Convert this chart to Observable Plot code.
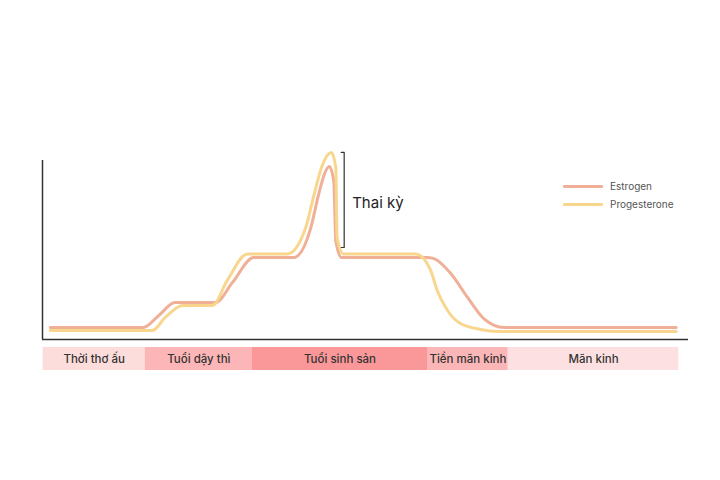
<!DOCTYPE html>
<html>
<head>
<meta charset="utf-8">
<script src="https://cdn.jsdelivr.net/npm/d3@7"></script>
<script src="https://cdn.jsdelivr.net/npm/@observablehq/plot@0.6"></script>
<style>
  body { margin: 0; background: #fff; font-family: Inter, "Noto Sans", sans-serif; }
  #wrap { position: relative; width: 720px; height: 480px; overflow: hidden; }
  #chart svg, #strip svg { display: block; }
  #legend { position: absolute; left: 563px; top: 177px; font-size: 10px; color: #555; }
  .item { display: flex; align-items: center; height: 18px; }
  .sw { width: 40px; height: 3px; margin-right: 7px; border-radius: 1px; }
</style>
</head>
<body>
<div id="wrap">
  <div id="chart"></div>
  <div id="strip"></div>
  <div id="legend"></div>
</div>
<script>
// ---- series (x: life course units 0–100, y: relative hormone level 0–100)
const seriesNames = ["Estrogen", "Progesterone"];
const seriesColors = ["#f0b098", "#f8d68e"];

const estrogenX = [1.2, 15.6, 18.0, 20.5, 26.8, 29.4, 32.7, 38.9, 41.5, 42.7, 43.7, 44.4, 45.1, 45.4, 46.3, 59.5, 60.5, 63.2, 65.8, 68.3, 71.5, 98.1];
const estrogenY = [6.7, 6.7, 13.4, 20.7, 20.7, 31.8, 45.8, 45.8, 62.0, 80.4, 93.0, 96.6, 88.0, 55.0, 45.8, 45.8, 45.3, 36.9, 23.5, 11.7, 6.7, 6.7];

const progesteroneX = [1.2, 17.0, 19.0, 21.7, 26.3, 28.6, 31.7, 37.9, 40.7, 42.0, 43.3, 44.7, 45.4, 45.6, 46.6, 57.8, 60.1, 61.1, 62.7, 64.7, 67.8, 70.4, 98.1];
const progesteroneY = [5.0, 5.0, 12.3, 19.0, 19.0, 33.0, 47.8, 47.8, 62.0, 80.4, 97.2, 104.5, 96.0, 57.0, 47.8, 47.8, 38.5, 27.4, 16.2, 8.9, 5.6, 4.5, 4.5];

// ---- life stages
const stageNames = ["Thời thơ ấu", "Tuổi dậy thì", "Tuổi sinh sản", "Tiền mãn kinh", "Mãn kinh"];
const stageStart = [0.1, 15.9, 32.5, 59.6, 72.1];
const stageEnd = [15.9, 32.5, 59.6, 72.1, 98.5];
const stageColors = ["#fddcdc", "#fcb6b7", "#fa9799", "#fbb6b7", "#fde1e2"];

// ---- pregnancy annotation
const annotationLabel = "Thai kỳ";
const annotationX = 46.7;
const annotationTop = 104.5;
const annotationBottom = 51.4;

// build tables
const estrogen = estrogenX.map((x, i) => ({x, y: estrogenY[i], series: seriesNames[0]}));
const progesterone = progesteroneX.map((x, i) => ({x, y: progesteroneY[i], series: seriesNames[1]}));
const stages = stageNames.map((name, i) => ({name, start: stageStart[i], end: stageEnd[i], color: stageColors[i], mid: (stageStart[i] + stageEnd[i]) / 2}));
const tick = 0.45;
const bracket = [
  {x: annotationX - tick, y: annotationTop},
  {x: annotationX, y: annotationTop},
  {x: annotationX, y: annotationBottom},
  {x: annotationX - tick, y: annotationBottom}
];

const chart = Plot.plot({
  width: 720,
  height: 347,
  marginLeft: 42,
  marginRight: 32,
  marginTop: 160,
  marginBottom: 8,
  style: {fontFamily: "Inter, 'Noto Sans', sans-serif", background: "transparent", overflow: "visible"},
  x: {domain: [0, 100], axis: null},
  y: {domain: [0, 100], axis: null},
  color: {domain: seriesNames, range: seriesColors},
  marks: [
    Plot.ruleY([0], {x1: 0, x2: 100, stroke: "#333", strokeWidth: 1.5}),
    Plot.ruleX([0], {y1: 0, y2: 100, stroke: "#333", strokeWidth: 1.5}),
    Plot.line(estrogen, {x: "x", y: "y", stroke: "series", strokeWidth: 3, curve: "monotone-x"}),
    Plot.line(progesterone, {x: "x", y: "y", stroke: "series", strokeWidth: 3, curve: "monotone-x"}),
    Plot.line(bracket, {x: "x", y: "y", stroke: "#333", strokeWidth: 1.2, curve: "linear"}),
    Plot.text([annotationLabel], {x: annotationX, y: (annotationTop + annotationBottom) / 2, text: d => d, dx: 8, dy: 3, textAnchor: "start", fontSize: 15, fill: "#222"})
  ]
});
document.getElementById("chart").append(chart);

const strip = Plot.plot({
  width: 720,
  height: 23,
  marginLeft: 42,
  marginRight: 32,
  marginTop: 0,
  marginBottom: 0,
  style: {fontFamily: "Inter, 'Noto Sans', sans-serif", background: "transparent"},
  x: {domain: [0, 100], axis: null},
  color: {type: "identity"},
  marks: [
    Plot.barX(stages, {x1: "start", x2: "end", fill: "color"}),
    Plot.text(stages, {x: "mid", text: "name", frameAnchor: "middle", fontSize: 11.5, fontWeight: 500, fill: "#333"})
  ]
});
document.getElementById("strip").append(strip);

const legend = document.getElementById("legend");
seriesNames.forEach((name, i) => {
  const item = document.createElement("div");
  item.className = "item";
  const sw = document.createElement("div");
  sw.className = "sw";
  sw.style.background = seriesColors[i];
  const label = document.createElement("span");
  label.textContent = name;
  item.append(sw, label);
  legend.append(item);
});
</script>
</body>
</html>
